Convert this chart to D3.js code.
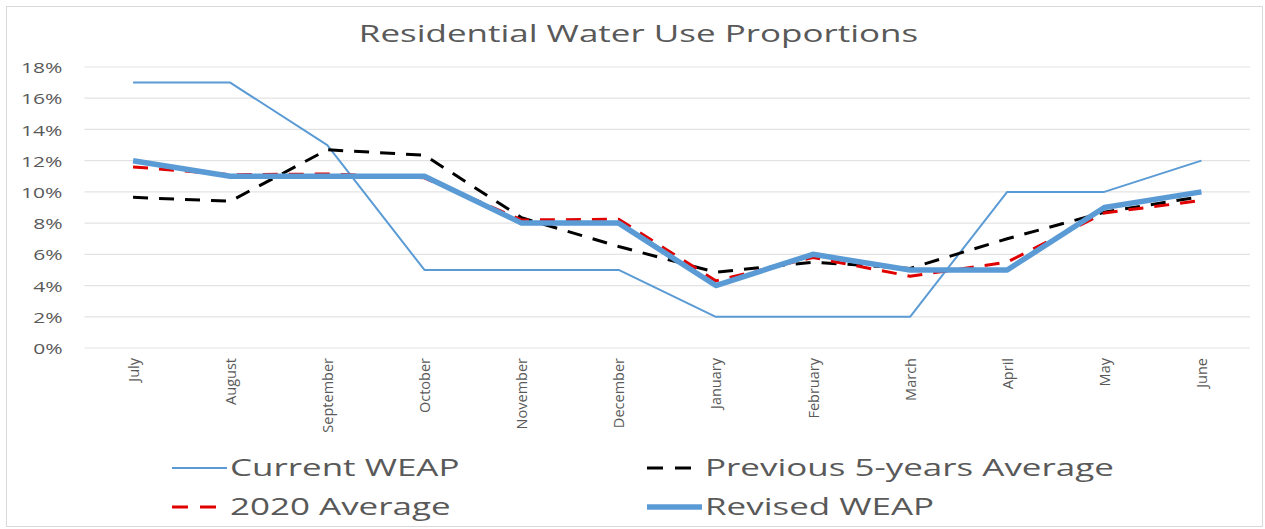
<!DOCTYPE html>
<html><head><meta charset="utf-8">
<script src="https://cdn.jsdelivr.net/npm/d3@7"></script>
<style>
html,body{margin:0;padding:0;background:#fff;}
svg{display:block;font-family:"Open Sans",sans-serif;}
</style></head>
<body><svg id="c" width="1265" height="529"></svg>
<script>
const months = ["July","August","September","October","November","December","January","February","March","April","May","June"];
const currentWEAP = [17,17,13,5,5,5,2,2,2,10,10,12];
const previous5yr = [9.65,9.4,12.7,12.35,8.35,6.5,4.85,5.5,5.1,7.0,8.7,9.7];
const avg2020 = [11.6,11.1,11.15,10.9,8.2,8.25,4.3,5.8,4.6,5.5,8.65,9.45];
const revisedWEAP = [12,11,11,11,8,8,4,6,5,5,9,10];
const yTicks = [0,2,4,6,8,10,12,14,16,18];
const seriesNames = ["Current WEAP","Previous 5-years Average","2020 Average","Revised WEAP"];

const svg = d3.select("#c");
const W=1265,H=529;
const pL=84.5,pR=1250,pT=67,pB=348;
const stretch = 1.52; // horizontal glyph stretch seen in the reference

function widen(sel,k){
  sel.each(function(){
    const w=this.getComputedTextLength();
    d3.select(this).attr("textLength",w*k).attr("lengthAdjust","spacingAndGlyphs");
  });
}

svg.append("rect").attr("x",6.5).attr("y",6.5).attr("width",W-9).attr("height",H-9)
  .attr("fill","#fff").attr("stroke","#d9d9d9");

const x = d3.scalePoint().domain(months).range([pL,pR]).padding(0.5);
const y = d3.scaleLinear().domain([0,18]).range([pB,pT]);

svg.append("g").selectAll("line").data(yTicks).join("line")
  .attr("x1",pL).attr("x2",pR).attr("y1",d=>y(d)).attr("y2",d=>y(d))
  .attr("stroke","#e3e3e3").attr("stroke-width",1.2);

const ya = svg.append("g").attr("transform",`translate(${pL-22},0)`)
  .call(d3.axisLeft(y).tickValues(yTicks).tickFormat(d=>d+"%").tickSize(0).tickPadding(0));
ya.select(".domain").remove();
ya.selectAll("text").attr("font-size",14).attr("fill","#595959").attr("font-family","Open Sans")
  .attr("dy","0.4em");
widen(ya.selectAll("text"),1.5);

const xa = svg.append("g").attr("transform",`translate(0,${pB})`)
  .call(d3.axisBottom(x).tickSize(0).tickPadding(0));
xa.select(".domain").remove();
xa.selectAll("text").attr("font-size",14.5).attr("fill","#595959")
  .attr("font-family","Open Sans")
  .attr("text-anchor","end").attr("dy","0.35em")
  .attr("transform","translate(0,10) rotate(-90)");

const title = svg.append("text").attr("x",638.5).attr("y",42).attr("text-anchor","middle")
  .attr("font-size",23).attr("fill","#595959")
  .text("Residential Water Use Proportions");
widen(title,stretch);

const line = d3.line().x((d,i)=>x(months[i])).y(d=>y(d));
const styles = [
  {data:currentWEAP,color:"#5b9bd5",w:2,dash:null},
  {data:previous5yr,color:"#000",w:3,dash:"15,11"},
  {data:avg2020,color:"#e00000",w:3,dash:"15,11"},
  {data:revisedWEAP,color:"#5b9bd5",w:5.5,dash:null}
];
styles.forEach(s=>{
  svg.append("path").datum(s.data).attr("d",line).attr("fill","none")
    .attr("stroke",s.color).attr("stroke-width",s.w)
    .attr("stroke-linejoin","round")
    .attr("stroke-dasharray",s.dash);
});

const legPos = [[172,468],[647,468],[172,507],[647,507]];
styles.forEach((s,i)=>{
  const [lx,ly]=legPos[i];
  const g=svg.append("g");
  g.append("line").attr("x1",lx).attr("x2",lx+55).attr("y1",ly).attr("y2",ly)
    .attr("stroke",s.color).attr("stroke-width",s.w).attr("stroke-dasharray",s.dash?"16,12":null);
  const t=g.append("text").attr("x",lx+58).attr("y",ly).attr("dy","0.36em")
    .attr("font-size",23).attr("fill","#595959").text(seriesNames[i]);
  widen(t,stretch);
});
</script></body></html>
